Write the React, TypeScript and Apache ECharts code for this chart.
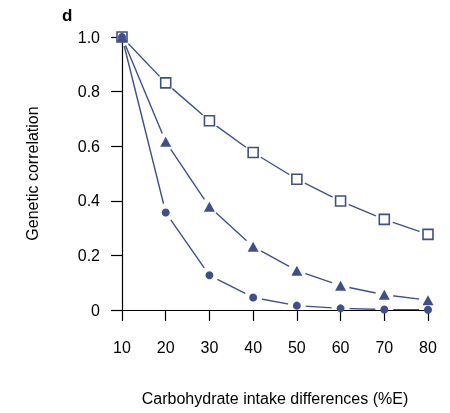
import React, { useEffect, useRef } from "react";
import * as echarts from "echarts";

const xValues = [10, 20, 30, 40, 50, 60, 70, 80];
const squareSeries = [1.0, 0.832, 0.693, 0.577, 0.479, 0.399, 0.332, 0.277];
const triangleSeries = [1.0, 0.616, 0.378, 0.232, 0.144, 0.089, 0.056, 0.036];
const circleSeries = [1.0, 0.357, 0.127, 0.046, 0.016, 0.006, 0.002, 0.001];

const BLUE = "#3f4f8c";
const FONT = "Liberation Sans, Arial, Helvetica, sans-serif";

function pairs(ys: number[]) {
  return xValues.map((x, i) => [x, ys[i]]);
}

export default function App() {
  const ref = useRef<HTMLDivElement>(null);
  useEffect(() => {
    if (!ref.current) return;
    const chart = echarts.init(ref.current, undefined, { renderer: "svg" });
    const lineSeries = (ys: number[]) => ({
      type: "line",
      data: pairs(ys),
      z: 1,
      showSymbol: false,
      lineStyle: { color: BLUE, width: 1.4 },
      silent: true,
    });
    const gapSeries = (ys: number[]) => ({
      type: "scatter",
      data: pairs(ys),
      z: 3,
      symbol: "circle",
      symbolSize: 18,
      itemStyle: { color: "#ffffff", opacity: 1, borderWidth: 0 },
      silent: true,
    });
    chart.setOption({
      animation: false,
      grid: { left: 122, right: 22, top: 37, bottom: 103, containLabel: false },
      xAxis: {
        type: "value",
        min: 10,
        max: 80,
        interval: 10,
        z: 4,
        splitLine: { show: false },
        axisLine: { show: true, onZero: false, lineStyle: { color: "#000", width: 1.2 } },
        axisTick: { show: true, length: 11, lineStyle: { color: "#000", width: 1.2 } },
        axisLabel: { margin: 29, fontSize: 16, color: "#000", fontFamily: FONT },
        name: "Carbohydrate intake differences (%E)",
        nameLocation: "middle",
        nameGap: 80,
        nameTextStyle: { fontSize: 16, color: "#000", fontFamily: FONT },
      },
      yAxis: {
        type: "value",
        min: 0,
        max: 1,
        interval: 0.2,
        z: 4,
        splitLine: { show: false },
        axisLine: { show: true, onZero: false, lineStyle: { color: "#000", width: 1.2 } },
        axisTick: { show: true, length: 11, lineStyle: { color: "#000", width: 1.2 } },
        axisLabel: {
          margin: 22,
          fontSize: 16,
          color: "#000",
          fontFamily: FONT,
          formatter: (v: number) => (v === 0 ? "0" : v.toFixed(1)),
        },
        name: "Genetic correlation",
        nameLocation: "middle",
        nameGap: 82,
        nameTextStyle: { fontSize: 16, color: "#000", fontFamily: FONT },
      },
      graphic: [
        {
          type: "text",
          left: 62,
          top: 7,
          style: { text: "d", font: `bold 17px ${FONT}`, fill: "#000" },
        },
      ],
      series: [
        lineSeries(squareSeries),
        lineSeries(triangleSeries),
        lineSeries(circleSeries),
        gapSeries(squareSeries),
        gapSeries(triangleSeries),
        gapSeries(circleSeries),
        {
          type: "scatter",
          data: pairs(squareSeries),
          z: 5,
          symbol: "rect",
          symbolSize: 10,
          itemStyle: { color: "#ffffff", borderColor: BLUE, borderWidth: 1.6, opacity: 1 },
        },
        {
          type: "scatter",
          data: pairs(triangleSeries),
          z: 6,
          symbol: "triangle",
          symbolSize: [11, 10],
          itemStyle: { color: BLUE, opacity: 1 },
        },
        {
          type: "scatter",
          data: pairs(circleSeries),
          z: 7,
          symbol: "circle",
          symbolSize: 8,
          itemStyle: { color: BLUE, opacity: 1 },
        },
      ],
    });
    return () => chart.dispose();
  }, []);
  return (
    <div
      ref={ref}
      style={{ position: "fixed", left: 0, top: 0, width: 450, height: 413 }}
    />
  );
}
